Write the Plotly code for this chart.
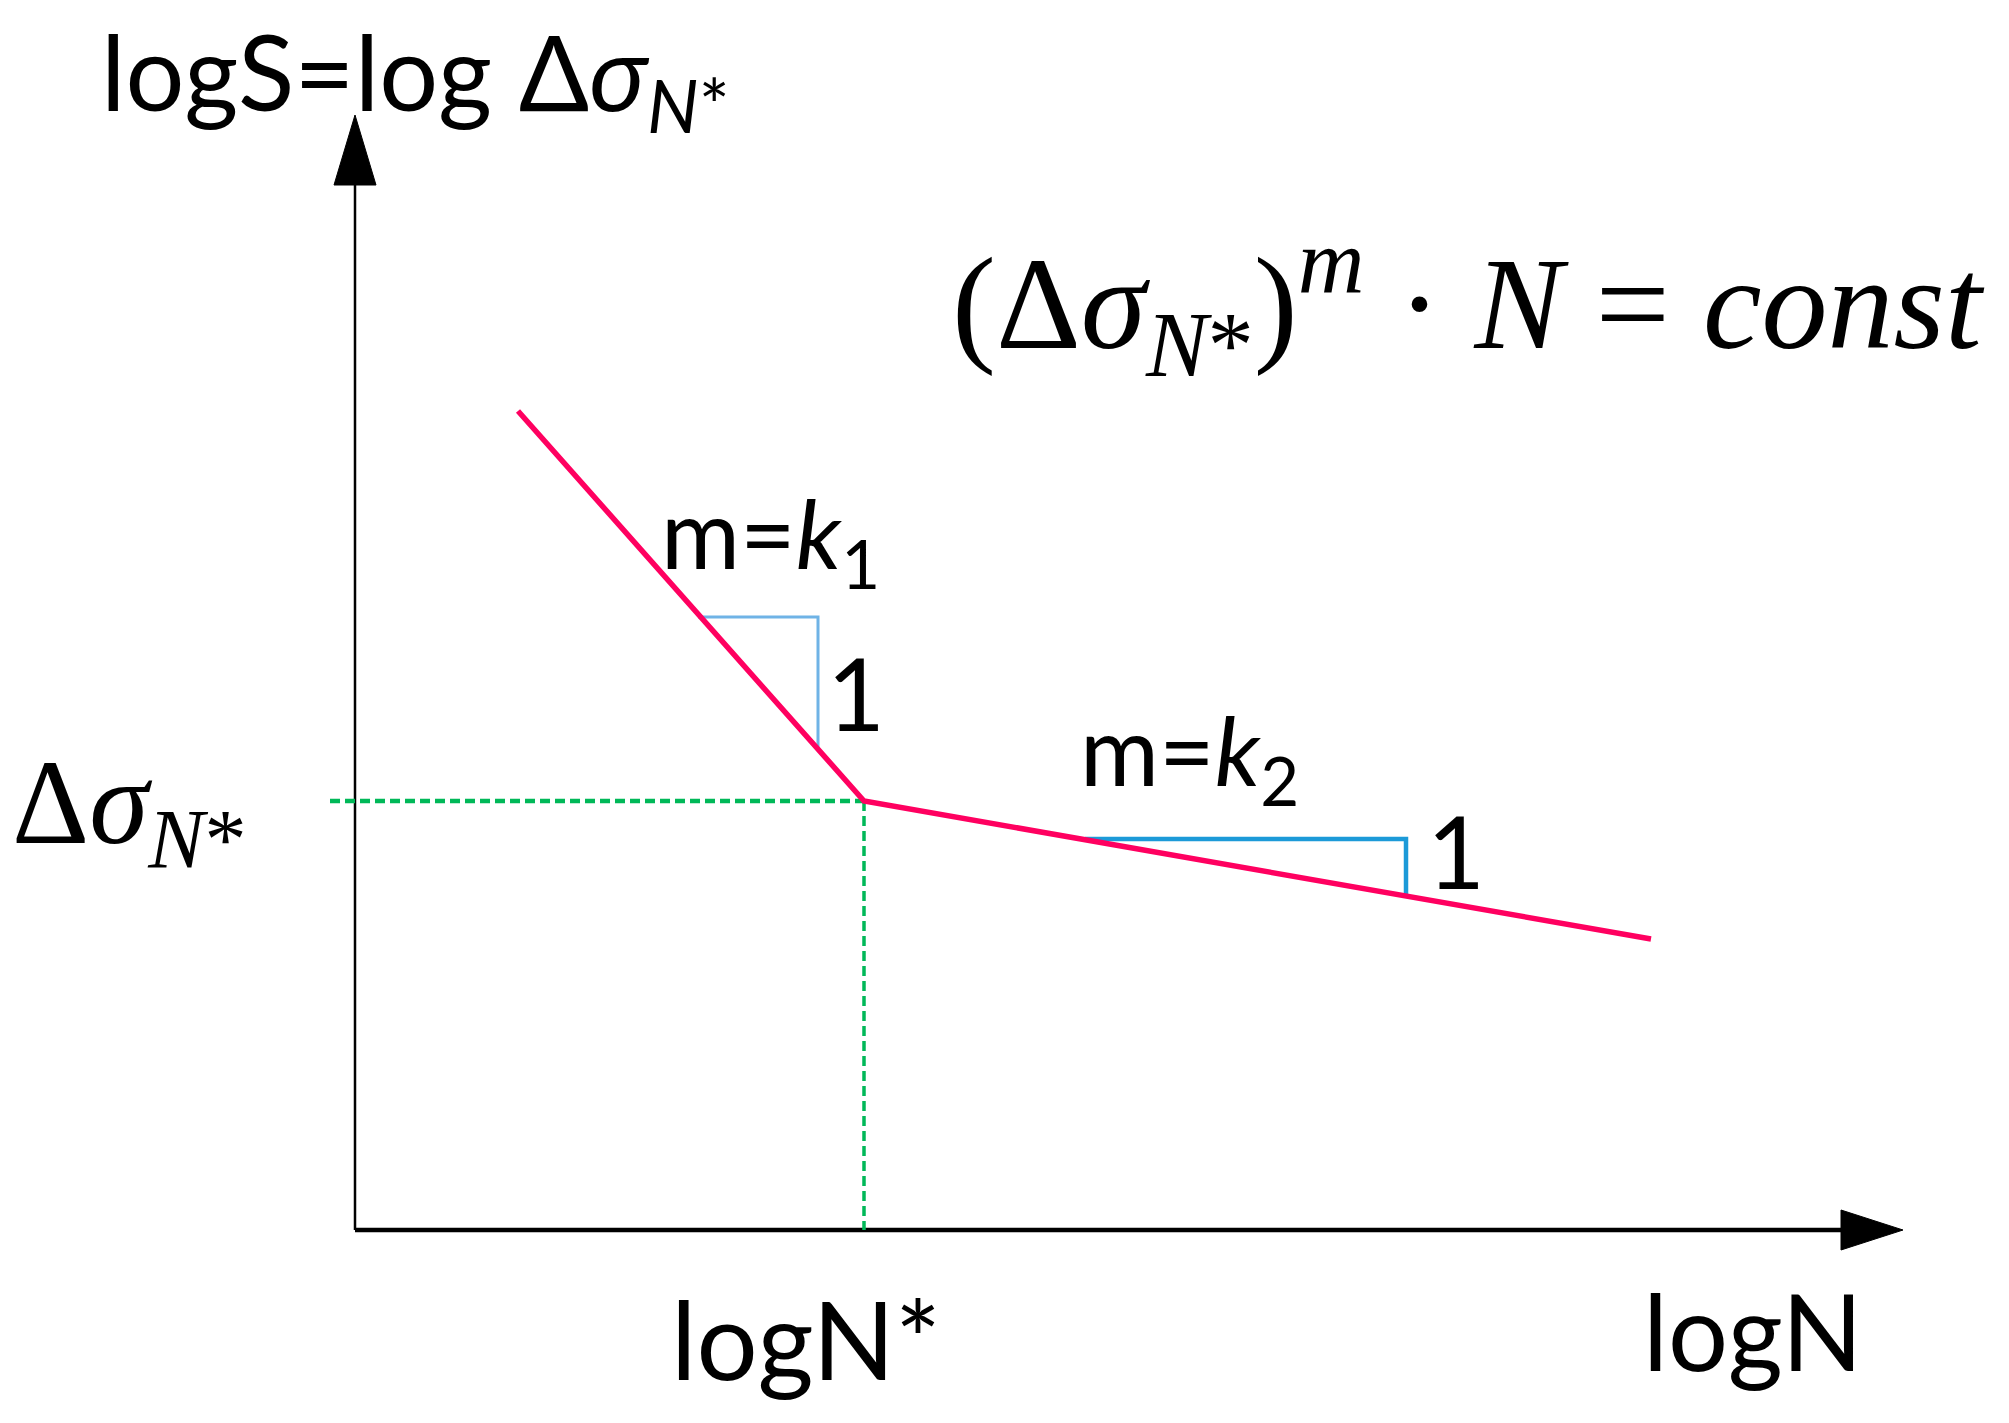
import plotly.graph_objects as go

# S-N curve schematic, in arbitrary (logN, logS) units
curve_logN = [1.63, 5.09, 12.96]
curve_logS = [8.19, 4.29, 2.91]

knee_logN = 5.09
knee_logS = 4.29

# slope triangles: horizontal run then vertical drop of "1"
tri1_logN = [3.43, 4.63, 4.63]
tri1_logS = [6.13, 6.13, 4.81]
tri2_logN = [7.30, 10.51, 10.51]
tri2_logS = [3.91, 3.91, 3.36]

# axis extents
x_axis_end = 15.48
y_axis_end = 11.15

RED = "#ff0060"
BLUE = "#1c9ad8"
BLUE_LIGHT = "#6fb3e6"
GREEN = "#00b858"
SANS = "Lato, 'Open Sans', sans-serif"
SERIF = "'Liberation Serif', 'DejaVu Serif', serif"

fig = go.Figure()

# axes lines
fig.add_trace(go.Scatter(x=[0, 0], y=[0, y_axis_end - 0.6], mode="lines",
                         line=dict(color="black", width=2.5), hoverinfo="skip"))
fig.add_trace(go.Scatter(x=[0, x_axis_end - 0.6], y=[0, 0], mode="lines",
                         line=dict(color="black", width=4.5), hoverinfo="skip"))

# arrow heads
fig.add_trace(go.Scatter(x=[-0.21, 0.21, 0, -0.21],
                         y=[y_axis_end - 0.70, y_axis_end - 0.70, y_axis_end, y_axis_end - 0.70],
                         mode="lines", fill="toself", fillcolor="black",
                         line=dict(color="black", width=1), hoverinfo="skip"))
fig.add_trace(go.Scatter(x=[x_axis_end - 0.62, x_axis_end - 0.62, x_axis_end, x_axis_end - 0.62],
                         y=[0.20, -0.20, 0, 0.20],
                         mode="lines", fill="toself", fillcolor="black",
                         line=dict(color="black", width=1), hoverinfo="skip"))

# green guide lines to the knee
fig.add_trace(go.Scatter(x=[-0.25, knee_logN], y=[knee_logS, knee_logS], mode="lines",
                         line=dict(color=GREEN, width=4.5, dash="10px,5px"), hoverinfo="skip"))
fig.add_trace(go.Scatter(x=[knee_logN, knee_logN], y=[knee_logS, 0], mode="lines",
                         line=dict(color=GREEN, width=3.5, dash="10px,5px"), hoverinfo="skip"))

# slope triangles
fig.add_trace(go.Scatter(x=tri1_logN, y=tri1_logS, mode="lines",
                         line=dict(color=BLUE_LIGHT, width=3), hoverinfo="skip"))
fig.add_trace(go.Scatter(x=tri2_logN, y=tri2_logS, mode="lines",
                         line=dict(color=BLUE, width=4.5), hoverinfo="skip"))

# the bilinear S-N curve
fig.add_trace(go.Scatter(x=curve_logN, y=curve_logS, mode="lines",
                         line=dict(color=RED, width=5.5), hoverinfo="skip"))

labels = [
    (-2.56, 11.52, "logS=log <span style='font-family:" + SERIF + ";font-size:124px'>Δ<i>σ</i><sub><i>N</i>*</sub></span>", SANS, 104),
    (5.95, 9.27, "(Δ<i>σ</i><sub><i>N</i>*</sub>)<sup><i>m</i></sup> · <i>N</i> = <i>const</i>", SERIF, 132),
    (3.04, 6.92, "m=<span style='font-family:" + SERIF + ";font-size:106px'><i>k</i><sub>1</sub></span>", SANS, 96),
    (4.70, 5.38, "1", SANS, 100),
    (7.23, 4.75, "m=<span style='font-family:" + SERIF + ";font-size:106px'><i>k</i><sub>2</sub></span>", SANS, 96),
    (10.70, 3.80, "1", SANS, 100),
    (-3.45, 4.19, "Δ<i>σ</i><sub><i>N</i>*</sub>", SERIF, 120),
    (3.14, -1.08, "logN*", SANS, 108),
    (12.86, -1.0, "logN", SANS, 106),
]
for x, y, text, family, size in labels:
    fig.add_annotation(x=x, y=y, text=text, showarrow=False, xanchor="left", yanchor="middle",
                       font=dict(family=family, size=size, color="black"))

fig.update_layout(width=2009, height=1423, margin=dict(l=0, r=0, t=0, b=0),
                  paper_bgcolor="white", plot_bgcolor="white", showlegend=False)
fig.update_xaxes(range=[-3.55, 16.54], visible=False)
fig.update_yaxes(range=[-1.93, 12.30], visible=False)

fig.write_html("out.html", config={"displayModeBar": False},
               post_script="document.body.style.margin='0';")
